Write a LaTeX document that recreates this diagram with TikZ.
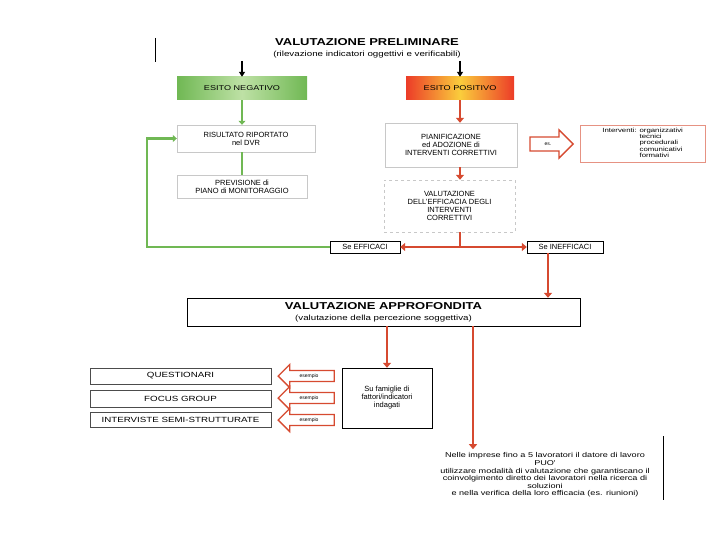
\documentclass[tikz,border=0pt]{standalone}
\usepackage{fontspec}
\setmainfont{Liberation Sans}
\newfontfamily\larga[FakeStretch=1.3]{Liberation Sans}
\usetikzlibrary{shapes.arrows,arrows.meta}
\definecolor{verde}{RGB}{112,184,84}
\definecolor{verdechiaro}{RGB}{190,225,165}
\definecolor{rosso}{RGB}{214,74,48}
\definecolor{fuoco}{RGB}{236,60,40}
\definecolor{giallo}{RGB}{250,205,60}
\definecolor{bordino}{RGB}{200,200,200}
\tikzset{
  testo/.style={font=\fontsize{7.5}{8}\selectfont, align=center},
  scatola/.style={testo, draw=bordino, fill=white, inner sep=1pt},
  esito/.style={font=\larga\fontsize{7}{8}\selectfont, minimum height=23pt, inner sep=1pt},
  freccianera/.style={line width=1.6pt, -{Triangle[length=5pt,width=6pt]}},
  frecciarossa/.style={rosso, line width=2.6pt, -{Triangle[length=5pt,width=8pt]}},
  lineaverde/.style={verde, line width=2.8pt},
  blocco/.style={single arrow, draw=rosso, line width=1.4pt, fill=white,
    font=\fontsize{5}{5}\selectfont, inner xsep=1.5pt, inner ysep=4pt, single arrow head extend=6pt},
}
\begin{document}
\begin{tikzpicture}[x=1pt, y=-1pt]
\useasboundingbox (0,0) rectangle (720,540);

% valutazione preliminare
\node[align=center] (prelim) at (367,48)
  {{\larga\fontsize{10}{10}\selectfont\bfseries VALUTAZIONE PRELIMINARE}\\[-1pt]
   {\larga\fontsize{7.5}{8}\selectfont (rilevazione indicatori oggettivi e verificabili)}};
\draw[line width=1pt] (155,38) -- (155,62);

\node[esito, minimum width=130pt, left color=verde, right color=verde, middle color=verdechiaro] (neg) at (242,88.5) {ESITO NEGATIVO};
\node[esito, minimum width=108pt, left color=fuoco, right color=fuoco, middle color=giallo] (pos) at (460,88.5) {ESITO POSITIVO};
\coordinate (pn) at (242,61);
\coordinate (pp) at (460,61);
\draw[freccianera] (pn) -- (neg.north);
\draw[freccianera] (pp) -- (pos.north);

% ramo negativo
\node[scatola, minimum width=138pt, minimum height=27pt] (ris) at (246,138.5) {RISULTATO RIPORTATO\\nel DVR};
\node[scatola, minimum width=130pt, minimum height=23pt] (prev) at (242,186.5) {PREVISIONE di\\PIANO di MONITORAGGIO};
\draw[lineaverde, -{Triangle[length=4pt,width=7pt]}] (neg.south) -- (neg.south |- ris.north);
\draw[lineaverde] (neg.south |- ris.south) -- (neg.south |- prev.north);

% ramo positivo
\node[scatola, minimum width=132pt, minimum height=44pt] (pian) at (451,145) {PIANIFICAZIONE\\ed ADOZIONE di\\INTERVENTI CORRETTIVI};
\node[blocco, minimum height=43pt, minimum width=28pt] (es) at (548,144) {es.};
\node[draw=rosso!60, fill=white, minimum width=125pt, minimum height=37pt, inner sep=1pt, anchor=north west] (interventi) at (580,125)
  {\larga\fontsize{6}{6.3}\selectfont\begin{tabular}{@{}l@{ }l@{}}Interventi: & organizzativi\\ & tecnici\\ & procedurali\\ & comunicativi\\ & formativi\end{tabular}};
\node[scatola, dashed, minimum width=131pt, minimum height=52pt] (eff) at (449.5,206) {VALUTAZIONE\\DELL'EFFICACIA DEGLI\\INTERVENTI\\CORRETTIVI};
\draw[frecciarossa] (pos.south) -- (pos.south |- pian.north);
\draw[frecciarossa] (pos.south |- pian.south) -- (pos.south |- eff.north);

\node[testo, draw, minimum width=70pt, minimum height=12pt, inner sep=0pt] (seeff) at (365,247) {Se EFFICACI};
\node[testo, draw, minimum width=76pt, minimum height=12pt, inner sep=0pt] (seineff) at (565,247) {Se INEFFICACI};
\coordinate (bivio) at (pos.south |- seeff);
\draw[rosso, line width=2.6pt] (pos.south |- eff.south) -- (bivio);
\draw[frecciarossa] (bivio) -- (seeff.east);
\draw[frecciarossa] (bivio) -- (seineff.west);
\coordinate (gomito) at (147,247);
\draw[lineaverde, -{Triangle[length=4pt,width=7pt]}] (seeff.west) -- (gomito) -- (gomito |- ris.west) -- (ris.west);

% valutazione approfondita
\node[draw, fill=white, minimum width=393pt, minimum height=28pt, align=center, inner sep=1pt] (appr) at (383.5,312)
  {{\larga\fontsize{10}{10}\selectfont\bfseries VALUTAZIONE APPROFONDITA}\\[-1pt]
   {\larga\fontsize{7.5}{8}\selectfont (valutazione della percezione soggettiva)}};
\draw[frecciarossa] ([xshift=-17pt]seineff.south) -- ([xshift=-17pt]seineff.south |- appr.north);

\node[testo, draw, minimum width=90pt, minimum height=60pt] (famiglie) at (387,398) {Su famiglie di\\fattori/indicatori\\indagati};
\node[scatola, font=\larga\fontsize{7.5}{8}\selectfont, draw=black!70, minimum width=181pt, minimum height=16pt] (quest) at (180.5,376) {QUESTIONARI};
\node[scatola, font=\larga\fontsize{7.5}{8}\selectfont, draw=black!70, minimum width=181pt, minimum height=17pt] (focus) at (180.5,398.5) {FOCUS GROUP};
\node[scatola, font=\larga\fontsize{7.5}{8}\selectfont, draw=black!70, minimum width=181pt, minimum height=15pt] (interviste) at (180.5,419.5) {INTERVISTE SEMI-STRUTTURATE};
\foreach \meta/\quota in {quest/376, focus/398, interviste/420}
  \node[blocco, shape border rotate=180, inner ysep=2.5pt, minimum height=56pt, minimum width=22pt] (es-\meta) at (309,\quota) {esempio};

\node[align=center, font=\larga\fontsize{7}{7.6}\selectfont] (nota) at (545,475)
  {Nelle imprese fino a 5 lavoratori il datore di lavoro\\PUO'\\utilizzare modalità di valutazione che garantiscano il\\coinvolgimento diretto dei lavoratori nella ricerca di\\soluzioni\\e nella verifica della loro efficacia (es. riunioni)};
\draw[line width=0.8pt] (663,436) -- (663,500);
\draw[frecciarossa] (appr.south -| famiglie.north) -- (famiglie.north);
\draw[frecciarossa] ([xshift=-72pt]nota.north |- appr.south) -- ([xshift=-72pt]nota.north);
\end{tikzpicture}
\end{document}
